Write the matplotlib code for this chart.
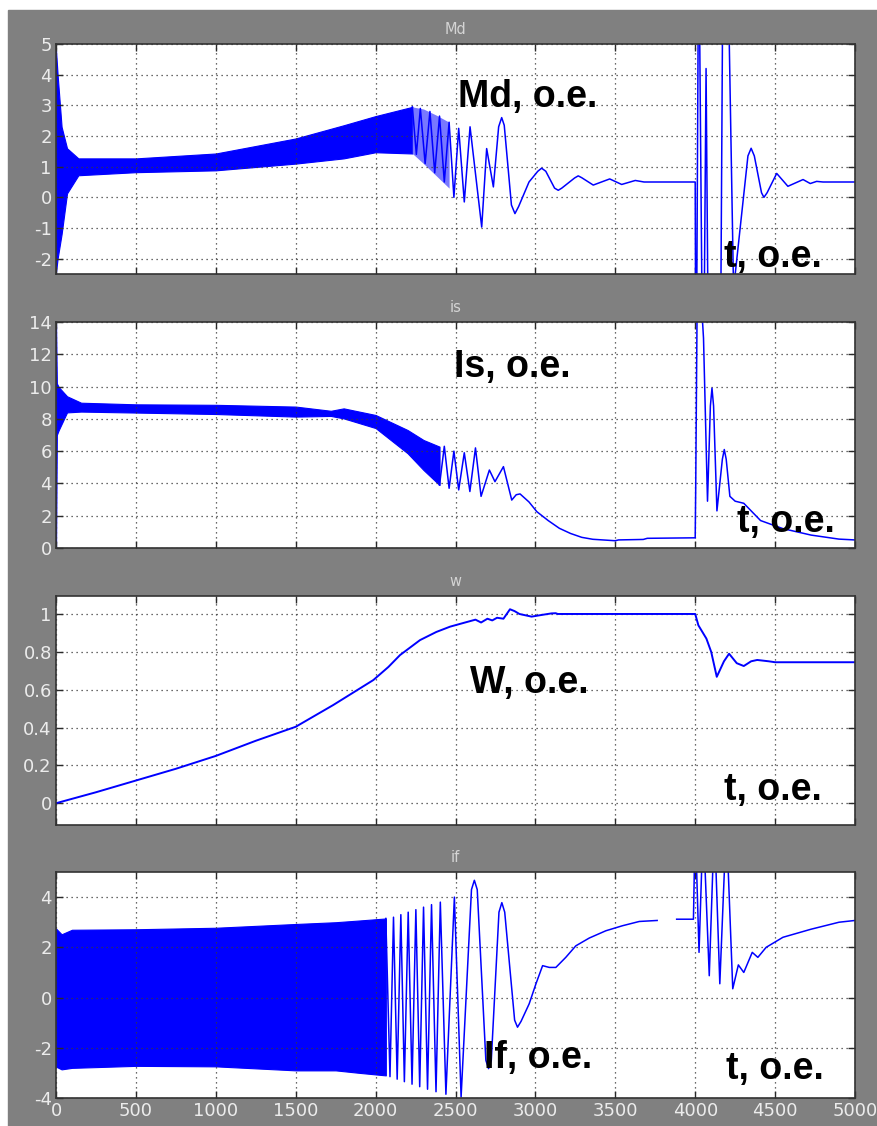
import numpy as np
import matplotlib.pyplot as plt
from matplotlib.patches import Rectangle

plt.rcParams['axes.unicode_minus'] = False

# ---- data ----
xticks = [0, 500, 1000, 1500, 2000, 2500, 3000, 3500, 4000, 4500, 5000]

# Md: dense band (envelope) then resolved oscillation
md_band_t = [0, 10, 35, 69, 140, 500, 1000, 1500, 1800, 2000, 2230]
md_band_hi = [4.8, 4.0, 2.3, 1.6, 1.27, 1.27, 1.43, 1.92, 2.35, 2.65, 2.95]
md_band_lo = [-2.45, -2.0, -1.2, 0.13, 0.72, 0.82, 0.88, 1.1, 1.27, 1.47, 1.43]
# half-resolved part (drawn lighter)
md_mid_t = [2230, 2300, 2380, 2460]
md_mid_hi = [2.95, 2.88, 2.68, 2.45]
md_mid_lo = [1.43, 1.1, 0.7, 0.3]
md_t = [2230, 2255, 2280, 2310, 2340, 2370, 2400, 2430, 2460, 2490, 2520, 2555,
        2591, 2664, 2695, 2737, 2770, 2789, 2805, 2850, 2872, 2895, 2960, 3015,
        3039, 3065, 3120, 3143, 3165, 3245, 3268, 3290, 3362, 3465, 3540, 3625,
        3680, 4000, 4005, 4022, 4050, 4068, 4088, 4120, 4155, 4175, 4200, 4240,
        4330, 4350, 4370, 4415, 4430, 4450, 4510, 4580, 4675, 4720, 4760, 4800, 5000]
md_v = [2.95, 1.4, 2.9, 1.1, 2.8, 0.8, 2.65, 0.5, 2.45, 0.0, 2.25, -0.15,
        2.3, -0.97, 1.59, 0.34, 2.3, 2.6, 2.35, -0.25, -0.53, -0.3, 0.5, 0.85,
        0.95, 0.85, 0.3, 0.23, 0.3, 0.63, 0.7, 0.64, 0.4, 0.6, 0.42, 0.55,
        0.5, 0.5, -8, 9, -8, 4.2, -9, -9, -8, 9, 9, -3.0,
        1.35, 1.6, 1.35, 0.15, 0.0, 0.15, 0.78, 0.36, 0.58, 0.45, 0.52, 0.5, 0.5]

# is
is_band_t = [0, 5, 17, 69, 157, 500, 1000, 1500, 1720, 1800, 2000, 2200, 2300, 2400]
is_band_hi = [13.9, 10.2, 9.97, 9.4, 9.0, 8.9, 8.87, 8.76, 8.5, 8.65, 8.24, 7.31, 6.69, 6.28]
is_band_lo = [0.0, 7.0, 7.3, 8.4, 8.45, 8.39, 8.3, 8.14, 8.18, 8.03, 7.43, 5.87, 4.83, 3.9]
is_t = [2400, 2430, 2460, 2490, 2520, 2555, 2590, 2625, 2660, 2712, 2747, 2800,
        2852, 2880, 2904, 2960, 3009, 3080, 3150, 3220, 3290, 3359, 3500, 3520,
        3675, 3700, 3989, 4000, 4003, 4012, 4040, 4052, 4077, 4095, 4105, 4115,
        4136, 4170, 4182, 4194, 4217, 4250, 4304, 4409, 4549, 4725, 4900, 5000]
is_v = [3.9, 6.3, 3.7, 6.0, 3.6, 5.9, 3.5, 6.2, 3.2, 4.83, 4.11, 5.04,
        2.97, 3.3, 3.35, 2.85, 2.25, 1.7, 1.22, 0.9, 0.66, 0.54, 0.45, 0.5,
        0.53, 0.6, 0.63, 0.63, 3.5, 15, 15, 13, 2.9, 8.8, 9.9, 8.8,
        2.3, 5.5, 6.1, 5.5, 3.2, 2.9, 2.77, 1.7, 1.2, 0.8, 0.55, 0.5]

# w
w_t = [0, 250, 500, 750, 1000, 1250, 1500, 1735, 1986, 2080, 2153, 2278, 2380,
       2466, 2560, 2625, 2660, 2700, 2730, 2760, 2800, 2841, 2870, 2900, 2976,
       3040, 3100, 3127, 3140, 4000, 4020, 4070, 4100, 4135, 4180, 4212, 4260,
       4304, 4350, 4388, 4460, 4500, 5000]
w_v = [0, 0.058, 0.12, 0.182, 0.25, 0.33, 0.404, 0.519, 0.651, 0.72, 0.783, 0.862, 0.905,
       0.933, 0.955, 0.97, 0.955, 0.975, 0.966, 0.98, 0.975, 1.025, 1.015, 1.0, 0.986,
       0.995, 1.003, 1.004, 1.0, 1.0, 0.94, 0.87, 0.80, 0.668, 0.75, 0.79, 0.74,
       0.725, 0.75, 0.757, 0.75, 0.745, 0.745]

# if
if_band_t = [0, 35, 100, 500, 1000, 1500, 1750, 1900, 2064]
if_band_hi = [2.75, 2.52, 2.7, 2.72, 2.78, 2.93, 3.0, 3.07, 3.15]
if_band_lo = [-2.75, -2.86, -2.8, -2.72, -2.74, -2.9, -2.9, -3.0, -3.1]
if_t = [2064, 2090, 2112, 2135, 2158, 2180, 2204, 2228, 2252, 2276, 2300, 2325,
        2350, 2378, 2405, 2440, 2493, 2535, 2600, 2618, 2636, 2690, 2707, 2724,
        2772, 2790, 2808, 2870, 2888, 2910, 2961, 3003, 3045, 3087, 3128, 3190,
        3253, 3337, 3441, 3545, 3650, 3762, 3800, 3884, 3989,
        4000, 4024, 4050, 4088, 4120, 4154, 4195, 4235, 4270, 4304, 4357, 4392,
        4444, 4549, 4724, 4900, 5000]
if_v = [3.15, -3.15, 3.2, -3.25, 3.3, -3.35, 3.4, -3.45, 3.5, -3.55, 3.6, -3.65,
        3.7, -3.75, 3.8, -3.85, 4.0, -3.96, 4.3, 4.67, 4.3, -2.5, -2.83, -2.5,
        3.4, 3.78, 3.4, -0.9, -1.18, -0.95, -0.25, 0.54, 1.27, 1.2, 1.2, 1.6,
        2.06, 2.37, 2.66, 2.86, 3.03, 3.07, np.nan, 3.12, 3.12,
        7, 1.8, 7, 0.87, 7, 0.55, 7, 0.35, 1.3, 1.0, 1.8, 1.6,
        2.0, 2.4, 2.72, 3.0, 3.07]

W, H = 877, 1126
fig = plt.figure(figsize=(W / 100, H / 100), dpi=100, facecolor='white')
fig.patches.append(Rectangle((8 / W, 0), 1 - 8 / W, 1 - 10 / H,
                             transform=fig.transFigure, color='#808080', zorder=-10))

tickfont = ['Liberation Sans Narrow', 'DejaVu Sans']
blue = '#0000ff'


def make_ax(top, bottom, ylim, yticks, ylabels, title, xlabels=False):
    ax = fig.add_axes([56 / W, 1 - bottom / H, (855 - 56) / W, (bottom - top) / H])
    ax.set_xlim(0, 5000)
    ax.set_ylim(*ylim)
    ax.set_xticks(xticks)
    ax.set_yticks(yticks)
    ax.set_yticklabels(ylabels, family=tickfont, fontsize=13)
    if xlabels:
        ax.set_xticklabels([str(v) for v in xticks], family=tickfont, fontsize=13)
    else:
        ax.set_xticklabels([])
    ax.grid(True, color='#3a3a3a', linestyle=(0, (1, 3)), linewidth=0.9)
    ax.tick_params(direction='in', top=True, right=True, length=5, width=1,
                   colors='#2a2a2a', labelcolor='#ececec', pad=3)
    ax.set_title(title, color='#d4d4d4', fontsize=10.5, pad=7, family=tickfont)
    for s in ax.spines.values():
        s.set_color('#333333')
        s.set_linewidth(1.2)
    return ax


ax1 = make_ax(44, 274, (-2.5, 5), [-2, -1, 0, 1, 2, 3, 4, 5],
              ['-2', '-1', '0', '1', '2', '3', '4', '5'], 'Md')
ax1.fill_between(md_band_t, md_band_lo, md_band_hi, color=blue, lw=0.8)
ax1.fill_between(md_mid_t, md_mid_lo, md_mid_hi, color='#7878ff', lw=0)
ax1.plot(md_t, md_v, color=blue, lw=1.1)

ax2 = make_ax(322, 548, (0, 14), [0, 2, 4, 6, 8, 10, 12, 14],
              ['0', '2', '4', '6', '8', '10', '12', '14'], 'is')
ax2.fill_between(is_band_t, is_band_lo, is_band_hi, color=blue, lw=0.8)
ax2.plot(is_t, is_v, color=blue, lw=1.1)

ax3 = make_ax(596, 825, (-0.115, 1.095), [0, 0.2, 0.4, 0.6, 0.8, 1],
              ['0', '0.2', '0.4', '0.6', '0.8', '1'], 'w')
ax3.plot(w_t, w_v, color=blue, lw=1.4)

ax4 = make_ax(872, 1098, (-4, 5), [-4, -2, 0, 2, 4],
              ['-4', '-2', '0', '2', '4'], 'if', xlabels=True)
ax4.fill_between(if_band_t, if_band_lo, if_band_hi, color=blue, lw=0.8)
ax4.plot(if_t, if_v, color=blue, lw=1.1)

labels = [
    ('Md, o.e.', 458, 107), ('t, o.e.', 724, 267),
    ('Is, o.e.', 454, 377), ('t, o.e.', 737, 532),
    ('W, o.e.', 470, 693), ('t, o.e.', 724, 800),
    ('If, o.e.', 484, 1068), ('t, o.e.', 726, 1079),
]
for txt, x, y in labels:
    fig.text(x / W, 1 - y / H, txt, fontsize=27, fontweight='bold',
             family=['Liberation Sans', 'DejaVu Sans'], color='black',
             ha='left', va='baseline', zorder=10)

fig.savefig('out.png', dpi=100, facecolor=fig.get_facecolor())
